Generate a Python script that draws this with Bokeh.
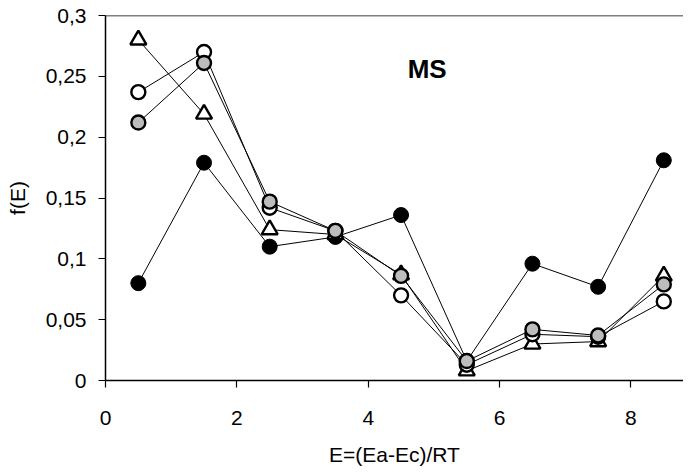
from bokeh.plotting import figure
from bokeh.models import Range1d, FixedTicker, CustomJSTickFormatter, Span, Label
from bokeh.embed import file_html
from bokeh.resources import INLINE

E = [0.5, 1.5, 2.5, 3.5, 4.5, 5.5, 6.5, 7.5, 8.5]
filled = [0.080, 0.179, 0.110, 0.118, 0.136, 0.016, 0.096, 0.077, 0.181]
open_c = [0.237, 0.270, 0.142, 0.123, 0.070, 0.013, 0.038, 0.036, 0.065]
gray_c = [0.212, 0.261, 0.147, 0.123, 0.086, 0.016, 0.042, 0.037, 0.079]
tri = [0.280, 0.219, 0.124, 0.120, 0.087, 0.008, 0.030, 0.032, 0.086]
xticks = [0, 2, 4, 6, 8]
yticks = [0, 0.05, 0.1, 0.15, 0.2, 0.25, 0.3]

FONT = "Liberation Sans"

p = figure(width=683, height=468, output_backend="svg", toolbar_location=None,
           x_range=Range1d(0, 8.80), y_range=Range1d(0, 0.3),
           min_border_left=105, min_border_right=0, min_border_top=15, min_border_bottom=87)
p.outline_line_color = None
p.grid.grid_line_color = None
p.background_fill_color = "white"

p.xaxis.ticker = FixedTicker(ticks=xticks)
p.yaxis.ticker = FixedTicker(ticks=yticks)
p.yaxis.formatter = CustomJSTickFormatter(code="return (Math.round(tick*100)/100).toString().replace('.', ',');")
for ax in (p.xaxis[0], p.yaxis[0]):
    ax.axis_line_color = "black"
    ax.axis_line_width = 1.5
    ax.major_tick_line_color = "black"
    ax.major_tick_line_width = 1.2
    ax.major_tick_out = 7
    ax.major_tick_in = 0
    ax.minor_tick_line_color = None
    ax.major_label_text_font = FONT
    ax.major_label_text_font_size = "21px"
    ax.major_label_text_color = "black"
    ax.axis_label_text_font = FONT
    ax.axis_label_text_font_size = "21px"
    ax.axis_label_text_font_style = "normal"
    ax.axis_label_text_color = "black"
p.xaxis.major_label_standoff = 23
p.yaxis.major_label_standoff = 12
p.xaxis.axis_label = "E=(Ea-Ec)/RT"
p.yaxis.axis_label = "f(E)"
p.xaxis.axis_label_standoff = 15
p.yaxis.axis_label_standoff = 14

p.add_layout(Span(location=0.3, dimension="width", line_color="black", line_width=1.5))

for ys in (filled, open_c, gray_c, tri):
    p.line(E, ys, line_color="black", line_width=1)

p.scatter(E, filled, marker="circle", size=15, fill_color="black", line_color="black", line_width=1)
p.scatter(E, tri, marker="triangle", size=16, fill_color="white", line_color="black", line_width=2.4)
p.scatter(E, open_c, marker="circle", size=14, fill_color="white", line_color="black", line_width=2.4)
p.scatter(E, gray_c, marker="circle", size=14, fill_color="#bdbdbd", line_color="black", line_width=2.4)

p.add_layout(Label(x=4.6, y=0.2557, text="MS", text_font=FONT, text_font_size="26px",
                   text_font_style="bold", text_baseline="middle", text_align="left",
                   text_color="black"))

open("out.html", "w").write(file_html(p, INLINE))
